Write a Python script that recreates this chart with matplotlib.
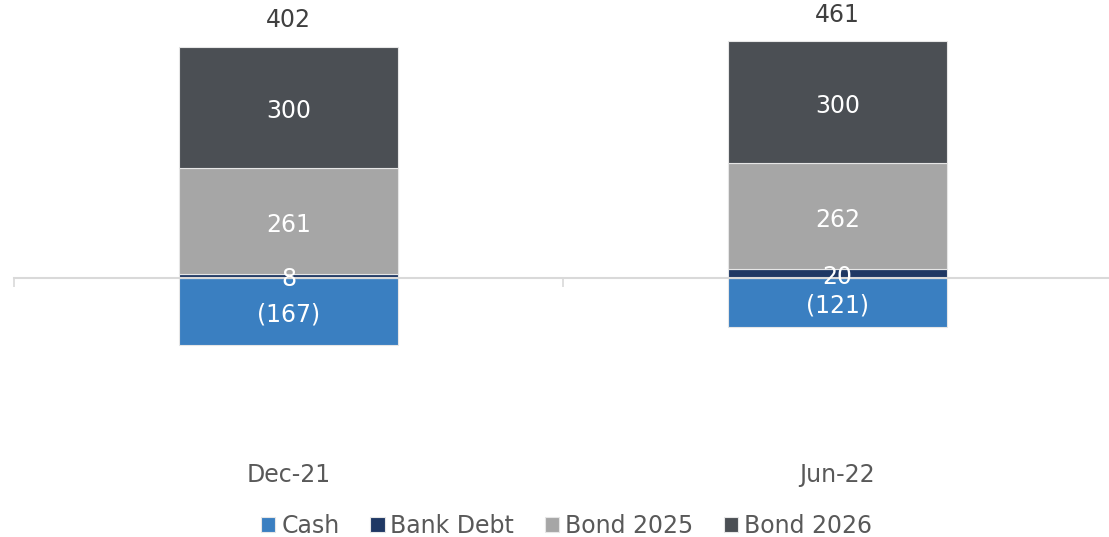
import numpy as np
import matplotlib
matplotlib.use('Agg')
from matplotlib import pyplot as plt
from matplotlib import transforms

# data
periods = ['Dec-21', 'Jun-22']
cash = [-167, -121]
bank_debt = [8, 20]
bond_2025 = [261, 262]
bond_2026 = [300, 300]

series_names = ['Cash', 'Bank Debt', 'Bond 2025', 'Bond 2026']
series_colors = ['#3A7FC1', '#1F3864', '#A6A6A6', '#4B4F54']

plt.rcParams['font.family'] = ['DejaVu Sans']
fs = 17

fig = plt.figure(figsize=(11.09, 5.37), dpi=100)
ax = fig.add_axes([14/1109, 1-440/537, 1098/1109, 406/537])

x = np.arange(len(periods))
w = 0.40

# cash goes below zero, the rest stacks upward
ax.bar(x, cash, w, color=series_colors[0], edgecolor='#e6e6e6', lw=0.8, label=series_names[0], zorder=3)
bottom = np.zeros(len(periods))
for vals, name, col in zip([bank_debt, bond_2025, bond_2026], series_names[1:], series_colors[1:]):
    ax.bar(x, vals, w, bottom=bottom, color=col, edgecolor='#e6e6e6', lw=0.8, label=name, zorder=3)
    bottom = bottom + np.array(vals)

# segment labels
def fmt(v):
    return '(%d)' % abs(v) if v < 0 else '%d' % v

def seg_label(xi, yi, s):
    ax.annotate(s, (xi, yi), xytext=(0, -2.5), textcoords='offset points',
                ha='center', va='center', color='white', fontsize=fs, zorder=5)

for i in x:
    seg_label(i, cash[i] / 2, fmt(cash[i]))
    b = 0
    for vals in [bank_debt, bond_2025, bond_2026]:
        seg_label(i, b + vals[i] / 2, fmt(vals[i]))
        b += vals[i]
    total = cash[i] + bank_debt[i] + bond_2025[i] + bond_2026[i]
    ax.annotate(fmt(total), (i, b), xytext=(0, 19), textcoords='offset points',
                ha='center', va='center', color='#404040', fontsize=fs)

ax.set_xlim(-0.5, 1.5)
ax.set_ylim(-400, 600)

for s in ['top', 'left', 'right']:
    ax.spines[s].set_visible(False)
ax.spines['bottom'].set_position(('data', 0))
ax.spines['bottom'].set_color('#d9d9d9')
ax.spines['bottom'].set_linewidth(1.5)
ax.spines['bottom'].set_zorder(4)
ax.set_xticks(np.arange(-0.5, len(periods), 1.0))
ax.set_xticklabels([])
ax.tick_params(axis='x', length=6.5, width=1.2, color='#d9d9d9', direction='out')
ax.set_yticks([])

# category labels sit low, below the plot
trans = transforms.blended_transform_factory(ax.transData, ax.transAxes)
for i, p in enumerate(periods):
    ax.text(i, -0.085, p, transform=trans, ha='center', va='center', color='#595959', fontsize=fs)

fig.legend(loc='center', bbox_to_anchor=(0.511, 1-526/537), ncol=4, frameon=False,
           fontsize=fs, handlelength=0.6, handleheight=0.6, handletextpad=0.25,
           columnspacing=1.3, labelcolor='#595959')

fig.savefig('out.png', dpi=100)
